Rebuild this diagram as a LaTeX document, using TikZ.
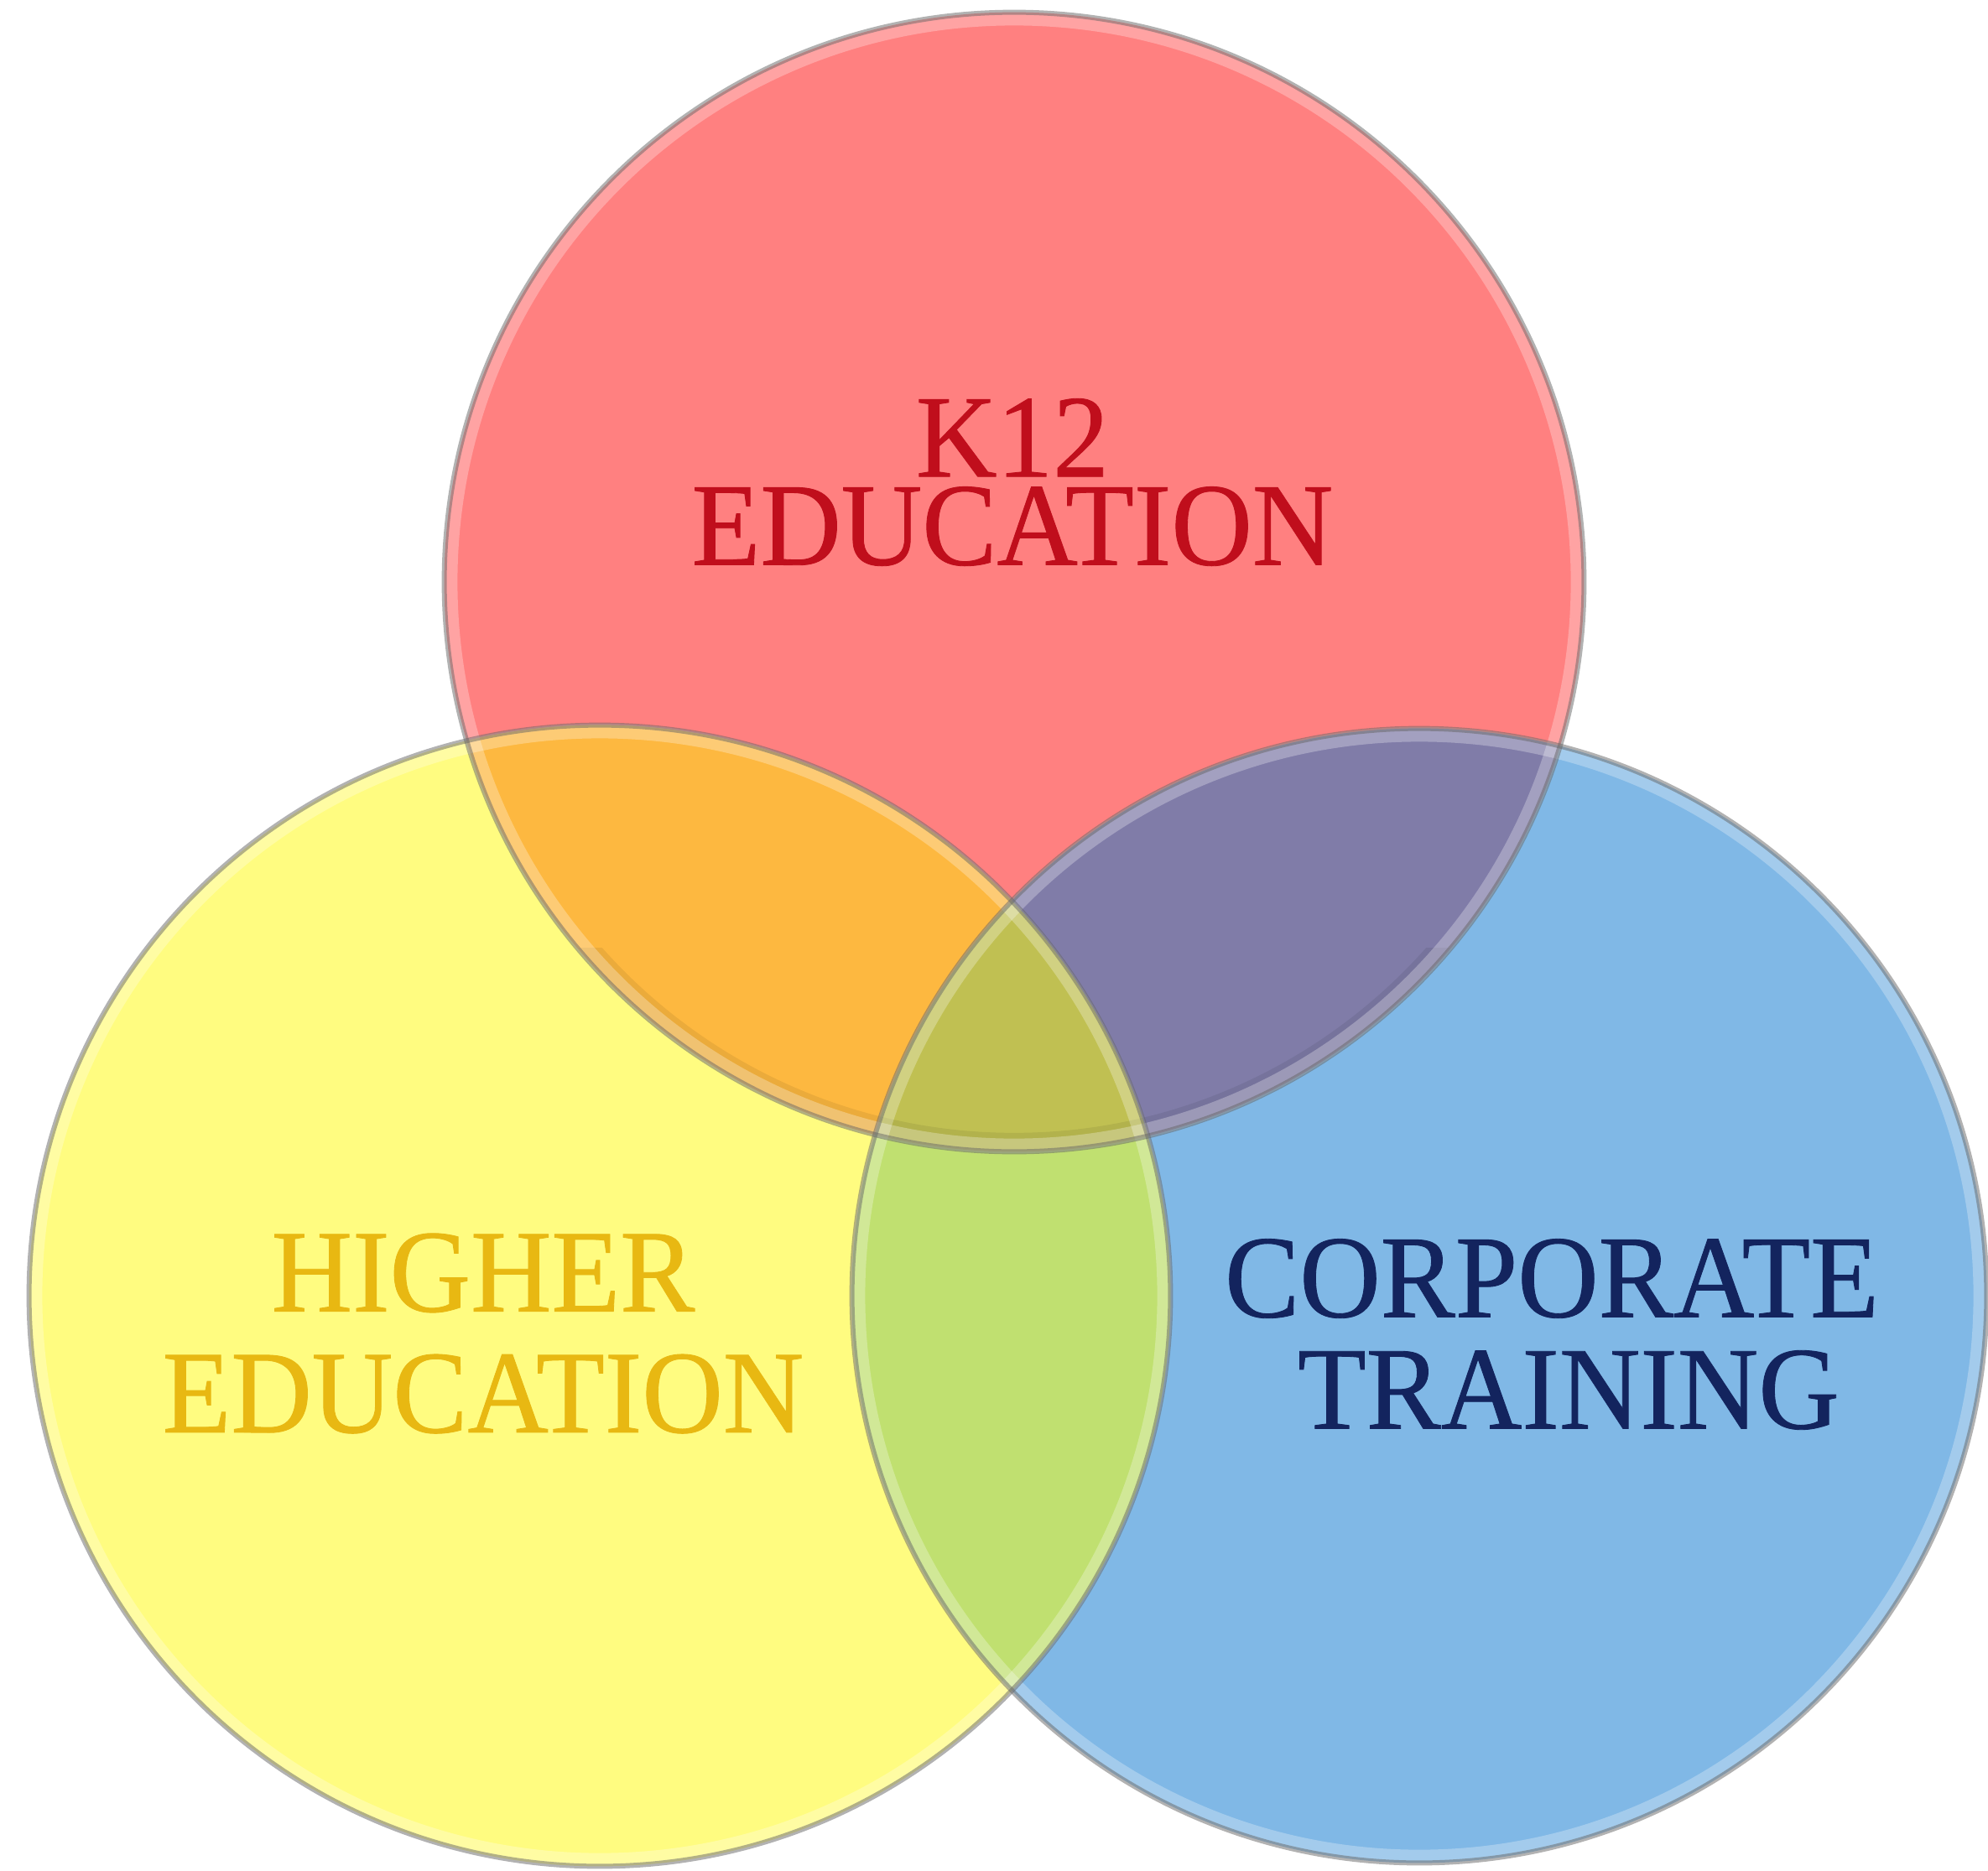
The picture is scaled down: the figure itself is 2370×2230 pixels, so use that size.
\documentclass[tikz,border=0pt]{standalone}
\usepackage{fontspec}
\newfontfamily\lab[FakeStretch=0.95,FakeBold=0.6]{Liberation Serif}
\definecolor{cred}{HTML}{FF8080}
\definecolor{cyel}{HTML}{FFFC80}
\definecolor{cblu}{HTML}{80B8E6}
\definecolor{cRY}{HTML}{FDB840}
\definecolor{cRB}{HTML}{807CA8}
\definecolor{cYB}{HTML}{C0E070}
\definecolor{cRYB}{HTML}{C0C052}
\definecolor{tred}{HTML}{C00E1C}
\definecolor{tyel}{HTML}{E8B812}
\definecolor{tblu}{HTML}{13245E}
\tikzset{
  lbl/.style={anchor=center, inner sep=0pt, align=center},
  rim/.style={draw=black!60, line width=1.7pt, opacity=0.5},
  glow/.style={draw=white, line width=5pt, opacity=0.28},
}
\begin{document}
\begin{tikzpicture}[x=0.01cm,y=-0.01cm]
\fill[white] (0,0) rectangle (2370,2230);
\useasboundingbox (0,0) rectangle (2370,2230);
\coordinate (cR) at (1209,694);
\coordinate (cY) at (715,1545);
\coordinate (cB) at (1692,1545);
\def\rR{6.79cm}\def\rY{6.80cm}\def\rB{6.76cm}
% base fills
\fill[cred] (cR) circle[radius=\rR];
\fill[cyel] (cY) circle[radius=\rY];
\fill[cblu] (cB) circle[radius=\rB];
% pairwise overlaps
\begin{scope}
  \clip (cR) circle[radius=\rR];
  \fill[cRY] (cY) circle[radius=\rY];
  \fill[cRB] (cB) circle[radius=\rB];
\end{scope}
\begin{scope}
  \clip (cY) circle[radius=\rY];
  \fill[cYB] (cB) circle[radius=\rB];
  \clip (cB) circle[radius=\rB];
  \fill[cRYB] (cR) circle[radius=\rR];
\end{scope}
% soft shadow along the lower edge of the red circle
\begin{scope}
  \clip (cR) circle[radius=\rR];
  \clip (0,1130) rectangle (2370,1400);
  \draw[black, opacity=0.07, line width=6pt] (cR) circle[radius=6.67cm];
\end{scope}
% bevel highlights and rims
\draw[glow] (cR) circle[radius=6.72cm];
\draw[glow] (cY) circle[radius=6.73cm];
\draw[glow] (cB) circle[radius=6.69cm];
\draw[rim] (cR) circle[radius=\rR];
\draw[rim] (cY) circle[radius=\rY];
\draw[rim] (cB) circle[radius=\rB];
% labels
\node[lbl, text=tred, font=\lab\fontsize{40pt}{29.9pt}\selectfont] (k12) at (1207,575) {K12\\EDUCATION};
\node[lbl, text=tyel, font=\lab\fontsize{40pt}{41pt}\selectfont] (higher) at (576,1590) {HIGHER\\EDUCATION};
\node[lbl, text=tblu, font=\lab\fontsize{40pt}{37.8pt}\selectfont] (corp) at (1850,1591) {CORPORATE\\TRAINING\hspace*{-0.4cm}};
\end{tikzpicture}
\end{document}
